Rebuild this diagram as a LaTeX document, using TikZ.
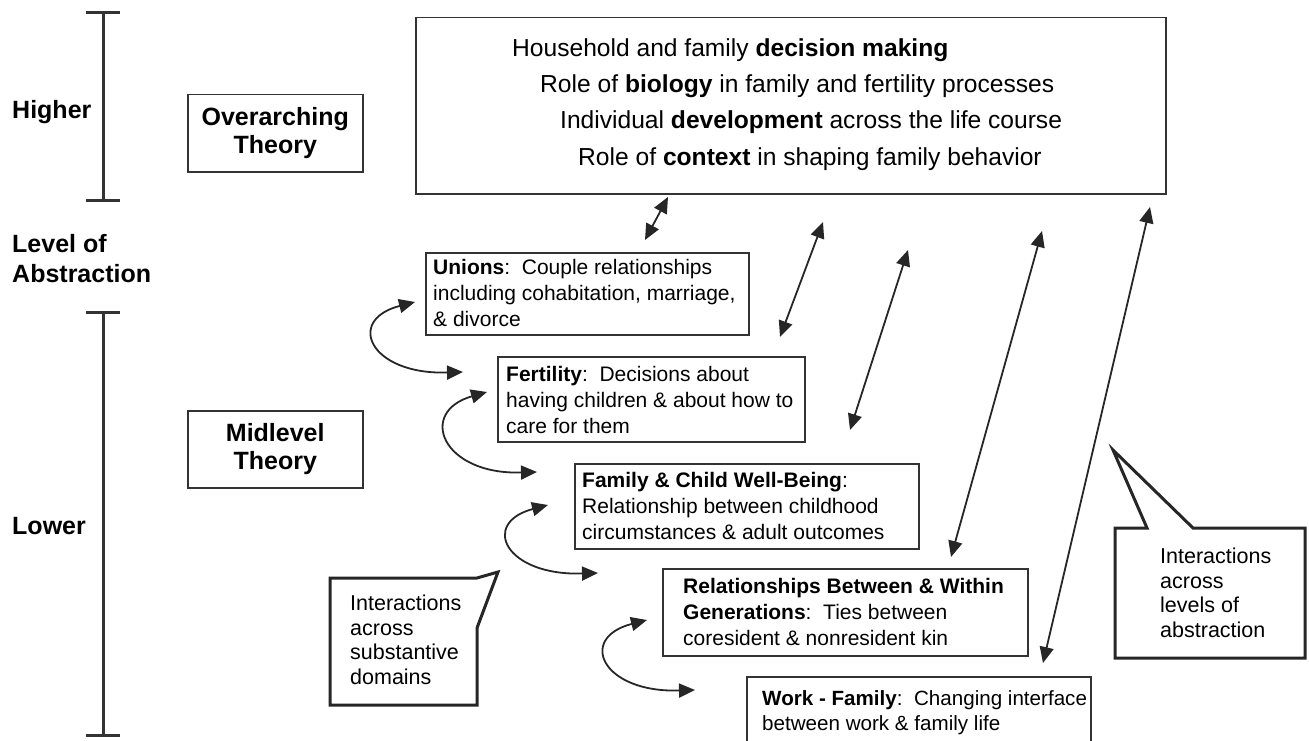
\documentclass[tikz,border=0pt]{standalone}
\usepackage{fontspec}
\setmainfont{Liberation Sans}
\usetikzlibrary{arrows.meta}
\tikzset{
  ln/.style={draw=black!80, line width=1.5pt},
  boxtxt/.style={align=left, inner sep=0pt, font=\fontsize{21}{26}\selectfont, anchor=west},
  toptxt/.style={inner sep=0pt, font=\fontsize{24.6}{30}\selectfont, anchor=base west},
  lvl/.style={align=left, inner sep=0pt, font=\fontsize{25}{30}\bfseries\selectfont, anchor=west},
  theory/.style={ln, align=center, font=\fontsize{25}{28}\bfseries\selectfont, minimum width=175pt, minimum height=77pt, anchor=north west},
  dbox/.style={ln, minimum width=#1, anchor=north west, inner sep=0pt},
  brk/.style={draw=black!80, line width=3pt},
  callout/.style={draw=black!85, line width=3pt, line join=miter},
  calltxt/.style={align=left, inner sep=0pt, font=\fontsize{21.5}{24.5}\selectfont, anchor=west},
  dbl/.style={draw=black!85, line width=1.8pt, {Triangle[length=16pt,width=14pt]}-{Triangle[length=16pt,width=14pt]}}
}
\begin{document}
\begin{tikzpicture}[x=1pt,y=-1pt]
\useasboundingbox (0,0) rectangle (1309,741);

% level brackets
\coordinate (hT) at (103,13); \coordinate (hB) at (103,200);
\coordinate (lT) at (103,312); \coordinate (lB) at (103,735);
\draw[brk] (hT) -- (hB);
\draw[brk] ([xshift=-17pt]hT) -- ([xshift=17pt]hT);
\draw[brk] ([xshift=-17pt]hB) -- ([xshift=17pt]hB);
\draw[brk] (lT) -- (lB);
\draw[brk] ([xshift=-17pt]lT) -- ([xshift=17pt]lT);
\draw[brk] ([xshift=-17pt]lB) -- ([xshift=17pt]lB);

\node[lvl] (higher) at (12,112) {Higher};
\node[lvl] (level) at (12,259) {Level of\\Abstraction};
\node[lvl] (lower) at (12,526) {Lower};

% theory boxes
\node[theory] (over) at (187,94) {Overarching\\Theory};
\node[theory] (mid) at (187,410) {Midlevel\\Theory};

% top box
\node[ln, minimum width=750pt, minimum height=176pt, anchor=north west, inner sep=0pt] (top) at (415,17) {};
\node[toptxt] (t1) at (512,57) {Household and family \textbf{decision making}};
\node[toptxt] (t2) at (540,93) {Role of \textbf{biology} in family and fertility processes};
\node[toptxt] (t3) at (560,129) {Individual \textbf{development} across the life course};
\node[toptxt] (t4) at (578,165) {Role of \textbf{context} in shaping family behavior};

% domain boxes
\node[dbox=323pt, minimum height=82pt] (unions) at (425,252) {};
\node[boxtxt] (unionsT) at ([xshift=8pt,yshift=1pt]unions.west) {\textbf{Unions}:\ \ Couple relationships\\including cohabitation, marriage,\\\& divorce};

\node[dbox=307pt, minimum height=85pt] (fert) at (497,356) {};
\node[boxtxt] (fertT) at ([xshift=9pt,yshift=-1pt]fert.west) {\textbf{Fertility}:\ \ Decisions about\\having children \& about how to\\care for them};

\node[dbox=344pt, minimum height=85pt] (fam) at (574,463) {};
\node[boxtxt] (famT) at ([xshift=8pt,yshift=0pt]fam.west) {\textbf{Family \& Child Well-Being}:\\Relationship between childhood\\circumstances \& adult outcomes};

\node[dbox=365pt, minimum height=87pt] (rel) at (662,568) {};
\node[boxtxt] (relT) at ([xshift=21pt,yshift=0pt]rel.west) {\textbf{Relationships Between \& Within}\\\textbf{Generations}:\ \ Ties between\\coresident \& nonresident kin};

\node[dbox=344pt, minimum height=66pt] (work) at (746,676) {};
\node[boxtxt, font=\fontsize{20.6}{25.5}\selectfont] (workT) at ([xshift=16pt,yshift=-3pt]work.west) {\textbf{Work - Family}:\ \ Changing interface\\between work \& family life};

% callout: substantive domains
\coordinate (c1a) at (330,578); \coordinate (c1b) at (477,578); \coordinate (c1tip) at (498,572);
\coordinate (c1c) at (477,628); \coordinate (c1d) at (477,705); \coordinate (c1e) at (330,705);
\draw[callout] (c1a) -- (c1b) -- (c1tip) -- (c1c) -- (c1d) -- (c1e) -- cycle;
\node[calltxt] (call1) at (350,640) {Interactions\\across\\substantive\\domains};

% callout: levels of abstraction
\coordinate (c2a) at (1115,528); \coordinate (c2b) at (1147,528); \coordinate (c2tip) at (1113,450);
\coordinate (c2c) at (1193,528); \coordinate (c2d) at (1305,528); \coordinate (c2e) at (1305,658);
\coordinate (c2f) at (1115,658);
\draw[callout] (c2a) -- (c2b) -- (c2tip) -- (c2c) -- (c2d) -- (c2e) -- (c2f) -- cycle;
\node[calltxt] (call2) at (1160,593) {Interactions\\across\\levels of\\abstraction};

% arrows across levels of abstraction
\coordinate (a1s) at (645,240); \coordinate (a1e) at (668,197);
\coordinate (a2s) at (780,337); \coordinate (a2e) at (823,222);
\coordinate (a3s) at (850,430); \coordinate (a3e) at (908,250);
\coordinate (a4s) at (951,557); \coordinate (a4e) at (1042,231);
\coordinate (a5s) at (1043,663); \coordinate (a5e) at (1150,207);
\draw[dbl] (a1s) -- (a1e);
\draw[dbl] (a2s) -- (a2e);
\draw[dbl] (a3s) -- (a3e);
\draw[dbl] (a4s) -- (a4e);
\draw[dbl] (a5s) -- (a5e);

% arrows across substantive domains
\coordinate (b1s) at (463,372); \coordinate (b1e) at (415,302);
\coordinate (b2s) at (537,472); \coordinate (b2e) at (487,392);
\coordinate (b3s) at (598,573); \coordinate (b3e) at (548,505);
\coordinate (b4s) at (695,690); \coordinate (b4e) at (647,620);
\draw[dbl] (b1s) .. controls (370,375) and (345,320) .. (b1e);
\draw[dbl] (b2s) .. controls (442,475) and (417,412) .. (b2e);
\draw[dbl] (b3s) .. controls (505,576) and (480,523) .. (b3e);
\draw[dbl] (b4s) .. controls (602,693) and (577,638) .. (b4e);
\end{tikzpicture}
\end{document}
